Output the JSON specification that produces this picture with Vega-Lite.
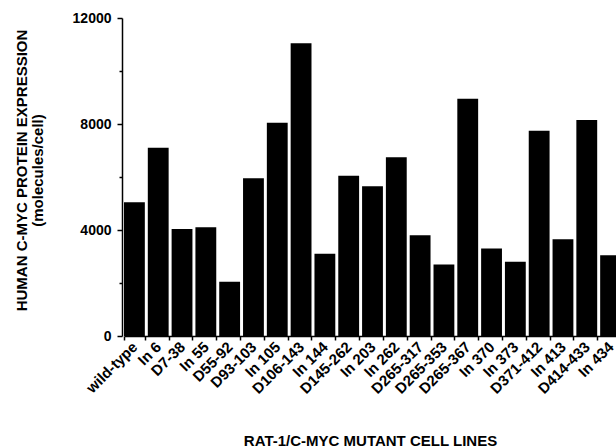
{
  "$schema": "https://vega.github.io/schema/vega-lite/v6.json",
  "autosize": {"type": "none"},
  "padding": {"left": 122, "top": 18, "right": 0, "bottom": 112},
  "width": 494,
  "height": 318,
  "background": "white",
  "config": {
    "view": {"stroke": null},
    "font": "Liberation Sans"
  },
  "data": {
    "values": [
      {"line": "wild-type", "expr": 5050},
      {"line": "In 6", "expr": 7100},
      {"line": "D7-38", "expr": 4040},
      {"line": "In 55", "expr": 4100},
      {"line": "D55-92", "expr": 2050},
      {"line": "D93-103", "expr": 5950},
      {"line": "In 105", "expr": 8050},
      {"line": "D106-143", "expr": 11050},
      {"line": "In 144", "expr": 3100},
      {"line": "D145-262", "expr": 6050},
      {"line": "In 203", "expr": 5650},
      {"line": "In 262", "expr": 6750},
      {"line": "D265-317", "expr": 3800},
      {"line": "D265-353", "expr": 2700},
      {"line": "D265-367", "expr": 8950},
      {"line": "In 370", "expr": 3300},
      {"line": "In 373", "expr": 2800},
      {"line": "D371-412", "expr": 7750},
      {"line": "In 413", "expr": 3650},
      {"line": "D414-433", "expr": 8150},
      {"line": "In 434", "expr": 3050}
    ]
  },
  "mark": {"type": "bar", "color": "black"},
  "encoding": {
    "x": {
      "field": "line",
      "type": "nominal",
      "sort": null,
      "scale": {"range": [2, 499], "paddingInner": 0.125, "paddingOuter": 0},
      "axis": {
        "title": "RAT-1/C-MYC MUTANT CELL LINES",
        "titleFont": "Liberation Sans",
        "titleFontWeight": "bold",
        "titleFontSize": 15,
        "titleColor": "black",
        "titleX": 248,
        "titleY": 109,
        "titleBaseline": "alphabetic",
        "titleAnchor": "middle",
        "labelAngle": -45,
        "labelAlign": "right",
        "labelBaseline": "middle",
        "labelFont": "Liberation Sans",
        "labelFontWeight": "bold",
        "labelFontSize": 15,
        "labelColor": "black",
        "labelPadding": 4,
        "labelOverlap": false,
        "tickBand": "extent",
        "tickSize": 4,
        "tickWidth": 1.5,
        "tickColor": "black",
        "domainColor": "black",
        "domainWidth": 1.5
      }
    },
    "y": {
      "field": "expr",
      "type": "quantitative",
      "scale": {"domain": [0, 12000], "nice": false},
      "axis": {
        "title": ["HUMAN C-MYC PROTEIN EXPRESSION", "(molecules/cell)"],
        "titleFont": "Liberation Sans",
        "titleFontWeight": "bold",
        "titleFontSize": 15,
        "titleColor": "black",
        "titleLineHeight": 16,
        "titleX": -108,
        "titleY": 152,
        "titleAngle": -90,
        "titleBaseline": "top",
        "titleAlign": "center",
        "values": [0, 2000, 4000, 6000, 8000, 10000, 12000],
        "labelExpr": "datum.value % 4000 === 0 ? datum.label : ''",
        "format": "d",
        "labelFont": "Liberation Sans",
        "labelFontWeight": "bold",
        "labelFontSize": 14,
        "labelColor": "black",
        "labelPadding": 6,
        "tickSize": {"condition": {"test": "datum.value % 4000 === 0", "value": 5}, "value": 3},
        "tickWidth": 1.5,
        "tickColor": "black",
        "domainColor": "black",
        "domainWidth": 1.5,
        "grid": false
      }
    }
  }
}
